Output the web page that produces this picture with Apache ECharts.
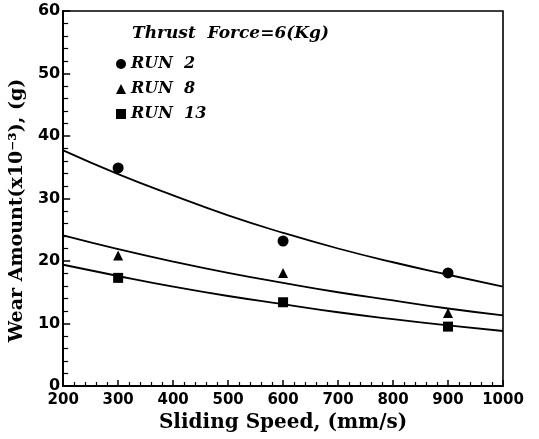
<!DOCTYPE html>
<html>
<head>
<meta charset="utf-8">
<script src="https://cdn.jsdelivr.net/npm/echarts@6/dist/echarts.min.js"></script>
<style>
  html, body { margin: 0; padding: 0; background: #fff; }
  #chart { width: 539px; height: 439px; }
</style>
</head>
<body>
<div id="chart"></div>
<script>
// measured points
const speeds = [300, 600, 900]
const run2 = [34.9, 23.2, 18.1]
const run8 = [20.9, 18.1, 11.7]
const run13 = [17.3, 13.4, 9.5]

// fitted curves, every 100 mm/s
const curveX = [200, 300, 400, 500, 600, 700, 800, 900, 1000]
const fit2 = [37.7, 33.9, 30.5, 27.3, 24.5, 22.0, 19.8, 17.8, 15.9]
const fit8 = [24.1, 21.9, 19.9, 18.1, 16.5, 15.0, 13.7, 12.4, 11.3]
const fit13 = [19.4, 17.6, 15.9, 14.4, 13.1, 11.8, 10.7, 9.7, 8.8]

const serif = '"DejaVu Serif", "Liberation Serif", serif'
const sans = '"DejaVu Sans", "Liberation Sans", sans-serif'

function pairs(xs, ys) {
  return xs.map((x, i) => [x, ys[i]])
}

function fitLine(ys) {
  return {
    type: 'line',
    data: pairs(curveX, ys),
    smooth: true,
    showSymbol: false,
    silent: true,
    lineStyle: { color: '#000', width: 1.8 },
    z: 2
  }
}

function points(name, symbol, size, ys) {
  return {
    name: name,
    type: 'scatter',
    symbol: symbol,
    symbolSize: size,
    data: pairs(speeds, ys),
    itemStyle: { color: '#000', opacity: 1 },
    z: 3
  }
}

const chart = echarts.init(document.getElementById('chart'))

chart.setOption({
  animation: false,
  backgroundColor: '#fff',
  grid: {
    left: 62, right: 36, top: 11, bottom: 53,
    show: true, borderColor: '#000', borderWidth: 1.6
  },
  graphic: [{
    type: 'text',
    left: 132, top: 25,
    style: {
      text: 'Thrust  Force=6(Kg)',
      font: 'italic bold 17px ' + serif,
      fill: '#000'
    }
  }],
  legend: {
    orient: 'vertical',
    left: 111, top: 51,
    itemWidth: 10, itemHeight: 10,
    itemGap: 9,
    textStyle: {
      fontFamily: serif, fontStyle: 'italic', fontWeight: 'bold',
      fontSize: 16, color: '#000'
    },
    data: [
      { name: 'RUN  2', icon: 'circle' },
      { name: 'RUN  8', icon: 'triangle' },
      { name: 'RUN  13', icon: 'rect' }
    ]
  },
  xAxis: {
    type: 'value',
    min: 200, max: 1000, interval: 100,
    name: 'Sliding Speed, (mm/s)',
    nameLocation: 'middle',
    nameGap: 27,
    nameTextStyle: { fontFamily: serif, fontWeight: 'bold', fontSize: 20, color: '#000' },
    axisLine: { lineStyle: { color: '#000', width: 2 } },
    axisTick: { inside: true, length: 6, lineStyle: { color: '#000', width: 1.5 } },
    minorTick: { show: true, splitNumber: 5, length: 4, lineStyle: { color: '#000', width: 1.2 } },
    axisLabel: {
      fontFamily: sans, fontWeight: 'bold', fontSize: 15, color: '#000', margin: 7,
      formatter: v => String(v)
    },
    splitLine: { show: false }
  },
  yAxis: {
    type: 'value',
    min: 0, max: 60, interval: 10,
    name: 'Wear Amount(x10\u207B\u00B3), (g)',
    nameLocation: 'middle',
    nameGap: 30,
    nameTextStyle: {
      fontFamily: serif, fontWeight: 'bold', fontSize: 19, color: '#000',
      padding: [0, 24, 0, 0]
    },
    axisLine: { lineStyle: { color: '#000', width: 2 } },
    axisTick: { inside: true, length: 7, lineStyle: { color: '#000', width: 1.5 } },
    minorTick: { show: true, splitNumber: 5, length: 5, lineStyle: { color: '#000', width: 1.2 } },
    axisLabel: { fontFamily: sans, fontWeight: 'bold', fontSize: 16, color: '#000', margin: 3 },
    splitLine: { show: false }
  },
  series: [
    fitLine(fit2),
    fitLine(fit8),
    fitLine(fit13),
    points('RUN  2', 'circle', 11, run2),
    points('RUN  8', 'triangle', 10, run8),
    points('RUN  13', 'rect', 10, run13)
  ]
})
</script>
</body>
</html>
